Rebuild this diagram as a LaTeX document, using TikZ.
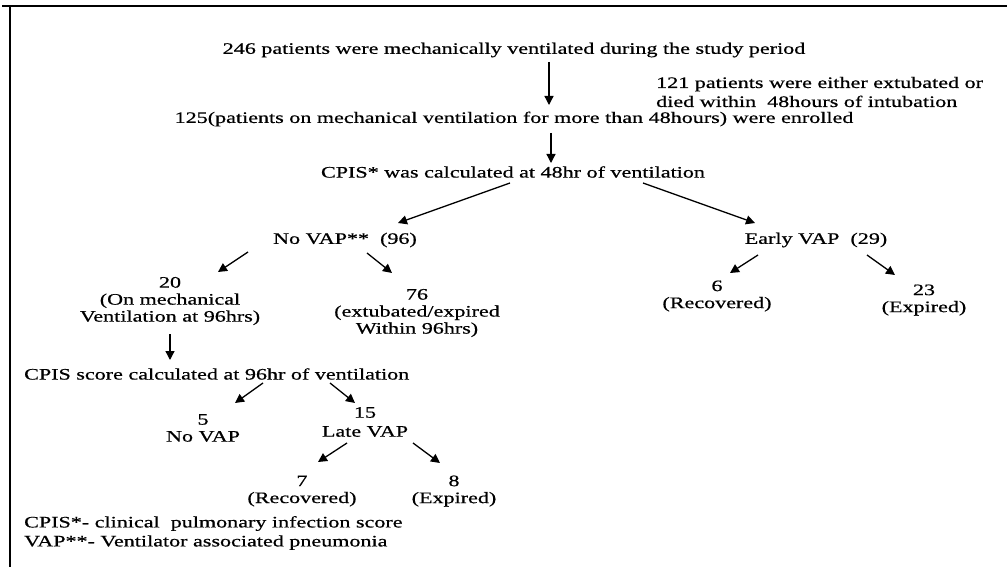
\documentclass[tikz,border=0pt]{standalone}
\usepackage{fontspec}
\setmainfont{Liberation Serif}[FakeStretch=1.38,FakeBold=0.6]
\usetikzlibrary{arrows.meta}

\begin{document}
\begin{tikzpicture}[x=1pt,y=-1pt,
  box/.style={inner sep=0pt,align=center,font=\fontsize{16}{17}\selectfont},
  wide/.style={font=\fontsize{16}{19}\selectfont},
  arr/.style={-{Triangle[length=9pt,width=9pt]},line width=1.3pt}]

  \useasboundingbox (0,0) rectangle (1007,567);

  % frame
  \draw[line width=2.5pt] (2,6) -- (1007,6);
  \draw[line width=2.5pt] (10,6) -- (10,567);

  % main line
  \node[box] (total) at (514,50) {246 patients were mechanically ventilated during the study period};
  \node[box,wide,anchor=west,align=left] (excl) at (656,92) {121 patients were either extubated or\\died within\ \ 48hours of intubation};
  \node[box] (enrol) at (514,119) {125(patients on mechanical ventilation for more than 48hours) were enrolled};
  \node[box] (cpis48) at (513,172) {CPIS* was calculated at 48hr of ventilation};

  % first split
  \node[box] (novap) at (345,240) {No VAP** \ (96)};
  \node[box] (early) at (816,240) {Early VAP\ \ (29)};
  \node[box] (on20) at (170,301) {20\\(On mechanical\\Ventilation at 96hrs)};
  \node[box] (ex76) at (417,313) {76\\(extubated/expired\\Within 96hrs)};
  \node[box] (rec6) at (717,296) {6\\(Recovered)};
  \node[box] (exp23) at (924,300) {23\\(Expired)};

  % second split
  \node[box,anchor=west] (cpis96) at (24,374) {CPIS score calculated at 96hr of ventilation};
  \node[box] (no5) at (203,428) {5\\No VAP};
  \node[box,wide] (late15) at (365,422) {15\\Late VAP};
  \node[box] (rec7) at (302,491) {7\\(Recovered)};
  \node[box] (exp8) at (454,491) {8\\(Expired)};

  % legend
  \node[box,wide,anchor=west,align=left] (legend) at (24,533) {CPIS*- clinical\ \ pulmonary infection score\\VAP**- Ventilator associated pneumonia};

  \draw[arr] ([shift={(35,12)}]total.center) -- ([shift={(35,-14)}]enrol.center);
  \draw[arr] ([shift={(37,14)}]enrol.center) -- ([shift={(38,-9)}]cpis48.center);
  \draw[arr] ([shift={(-3,11)}]cpis48.center) -- ([shift={(53,-17)}]novap.center);
  \draw[arr] ([shift={(130,11)}]cpis48.center) -- ([shift={(-61,-17)}]early.center);
  \draw[arr] ([shift={(-97,12)}]novap.center) -- ([shift={(48,-29)}]on20.center);
  \draw[arr] ([shift={(22,13)}]novap.center) -- ([shift={(-25,-40)}]ex76.center);
  \draw[arr] ([shift={(-58,15)}]early.center) -- ([shift={(13,-23)}]rec6.center);
  \draw[arr] ([shift={(51,15)}]early.center) -- ([shift={(-29,-25)}]exp23.center);
  \draw[arr] (on20.south) ++(0,9) -- ([shift={(146,-14)}]cpis96.west);
  \draw[arr] ([shift={(239,9)}]cpis96.west) -- ([shift={(32,-25)}]no5.center);
  \draw[arr] ([shift={(306,9)}]cpis96.west) -- ([shift={(-10,-19)}]late15.center);
  \draw[arr] ([shift={(-18,21)}]late15.center) -- ([shift={(16,-29)}]rec7.center);
  \draw[arr] ([shift={(48,21)}]late15.center) -- ([shift={(-14,-28)}]exp8.center);

\end{tikzpicture}
\end{document}
